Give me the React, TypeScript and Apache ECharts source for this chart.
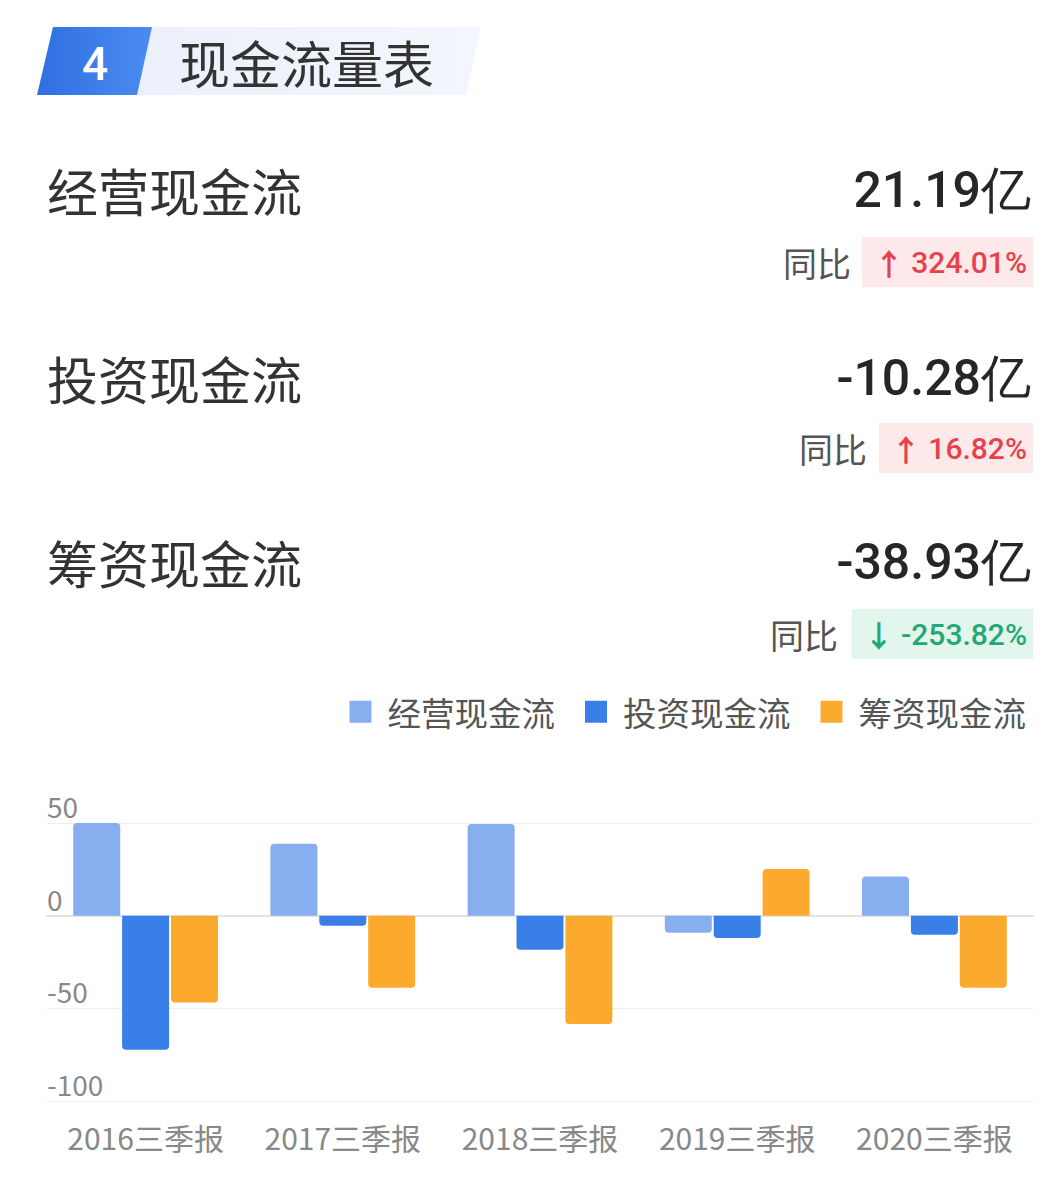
import React, { useEffect, useRef } from "react";
import * as echarts from "echarts";

// ---- data ----
const categories = ["2016三季报", "2017三季报", "2018三季报", "2019三季报", "2020三季报"];
const seriesNames = ["经营现金流", "投资现金流", "筹资现金流"];
const operating = [51.2, 38.8, 49.4, -9.2, 21.19];
const investing = [-72.3, -5.4, -18.4, -12.0, -10.28];
const financing = [-46.8, -38.9, -58.4, 25.2, -38.93];
const yMin = -100;
const yMax = 50;
const yInterval = 50;

const sectionNumber = "4";
const sectionTitle = "现金流量表";
const summaryNames = ["经营现金流", "投资现金流", "筹资现金流"];
const summaryValues = ["21.19亿", "-10.28亿", "-38.93亿"];
const yoyLabel = "同比";
const yoyValues = ["324.01%", "16.82%", "-253.82%"];
const yoyUp = [true, true, false];

// ---- layout / style ----
const W = 1043;
const H = 1193;
const rowY = [190, 378, 562];
const badgeY = [262, 448, 634];
const colors = ["#87aeee", "#3a7ee8", "#fcaa2d"];
const CJK = "'Noto Sans CJK SC', 'Noto Sans', sans-serif";
const NUM = "Roboto, 'Noto Sans', sans-serif";

function roundItems(values: number[]) {
  return values.map((v) => ({
    value: v,
    itemStyle: { borderRadius: v >= 0 ? [4, 4, 0, 0] : [0, 0, 4, 4] },
  }));
}

export default function App() {
  const ref = useRef<HTMLDivElement>(null);
  useEffect(() => {
    document.body.style.margin = "0";
    const chart = echarts.init(ref.current!, null, { renderer: "svg" });

    const graphics: any[] = [];
    // header background
    graphics.push({
      type: "polygon",
      shape: { points: [[53, 27], [481, 27], [466, 95], [37, 95]] },
      style: {
        fill: new echarts.graphic.LinearGradient(0, 0, 1, 0, [
          { offset: 0, color: "#e8eefa" },
          { offset: 1, color: "#f3f6fc" },
        ]),
      },
    });
    graphics.push({
      type: "polygon",
      shape: { points: [[53, 27], [152, 27], [137, 95], [37, 95]] },
      style: {
        fill: new echarts.graphic.LinearGradient(0, 0, 1, 0, [
          { offset: 0, color: "#2f6fe2" },
          { offset: 1, color: "#4a8cf0" },
        ]),
      },
    });
    graphics.push({
      type: "text",
      x: 95,
      y: 64,
      style: {
        text: sectionNumber,
        fill: "#ffffff",
        fontSize: 46,
        fontWeight: 500,
        fontFamily: NUM,
        align: "center",
        verticalAlign: "middle",
      },
    });
    graphics.push({
      type: "text",
      x: 179,
      y: 62,
      style: {
        text: sectionTitle,
        fill: "#333333",
        fontSize: 51,
        fontFamily: CJK,
        verticalAlign: "middle",
      },
    });

    summaryNames.forEach((name, i) => {
      graphics.push({
        type: "text",
        x: 47,
        y: rowY[i],
        style: { text: name, fill: "#333333", fontSize: 51, fontFamily: CJK, verticalAlign: "middle" },
      });
      graphics.push({
        type: "text",
        x: 1031,
        y: rowY[i],
        style: {
          text: summaryValues[i],
          fill: "#262626",
          fontSize: 50,
          fontWeight: 500,
          fontFamily: NUM,
          align: "right",
          verticalAlign: "middle",
        },
      });
      const up = yoyUp[i];
      const fg = up ? "#e5424d" : "#22a874";
      graphics.push({
        type: "text",
        x: 1033,
        y: badgeY[i],
        style: {
          text: "{a|" + (up ? "↑" : "↓") + "}{v| " + yoyValues[i] + "}",
          align: "right",
          verticalAlign: "middle",
          backgroundColor: up ? "#fde9ea" : "#e3f6ee",
          padding: [9, 6, 9, 12],
          rich: {
            a: { fill: fg, fontSize: 30, fontWeight: "bold", fontFamily: CJK, lineHeight: 32 },
            v: { fill: fg, fontSize: 30, fontWeight: 500, fontFamily: NUM, lineHeight: 32 },
          },
        },
      });
    });
    // 同比 labels (positioned left of badges)
    const yoyX = [851, 867, 838];
    yoyX.forEach((x, i) => {
      graphics.push({
        type: "text",
        x,
        y: badgeY[i],
        style: {
          text: yoyLabel,
          fill: "#555555",
          fontSize: 34,
          fontFamily: CJK,
          align: "right",
          verticalAlign: "middle",
        },
      });
    });

    const mk = (name: string, data: number[], color: string) => ({
      name,
      type: "bar",
      data: roundItems(data),
      barWidth: 47,
      barGap: "4%",
      itemStyle: { color },
    });

    chart.setOption({
      animation: false,
      backgroundColor: "#ffffff",
      legend: {
        top: 690,
        right: 12,
        itemWidth: 22,
        itemHeight: 22,
        itemGap: 30,
        icon: "rect",
        data: seriesNames,
        textStyle: { fontSize: 33.5, color: "#555555", fontFamily: CJK, padding: [0, 0, 0, 11] },
      },
      grid: { left: 47, right: 10, top: 823, bottom: 92 },
      xAxis: {
        type: "category",
        data: categories,
        axisLine: { show: true, lineStyle: { color: "#e3e3e3", width: 2 } },
        axisTick: { show: false },
        axisLabel: { color: "#888888", fontSize: 30, fontFamily: CJK, margin: 21, interval: 0, hideOverlap: false },
      },
      yAxis: {
        type: "value",
        min: yMin,
        max: yMax,
        interval: yInterval,
        axisLine: { show: false },
        axisTick: { show: false },
        splitLine: { lineStyle: { color: "#eeeeee", width: 1 } },
        axisLabel: {
          inside: true,
          margin: 0,
          color: "#888888",
          fontSize: 28,
          fontFamily: CJK,
          verticalAlign: "bottom",
          padding: [0, 0, 3, 0],
        },
      },
      series: [
        mk(seriesNames[0], operating, colors[0]),
        mk(seriesNames[1], investing, colors[1]),
        mk(seriesNames[2], financing, colors[2]),
      ],
      graphic: graphics,
    });
    return () => chart.dispose();
  }, []);
  return <div ref={ref} style={{ width: W, height: H }} />;
}
